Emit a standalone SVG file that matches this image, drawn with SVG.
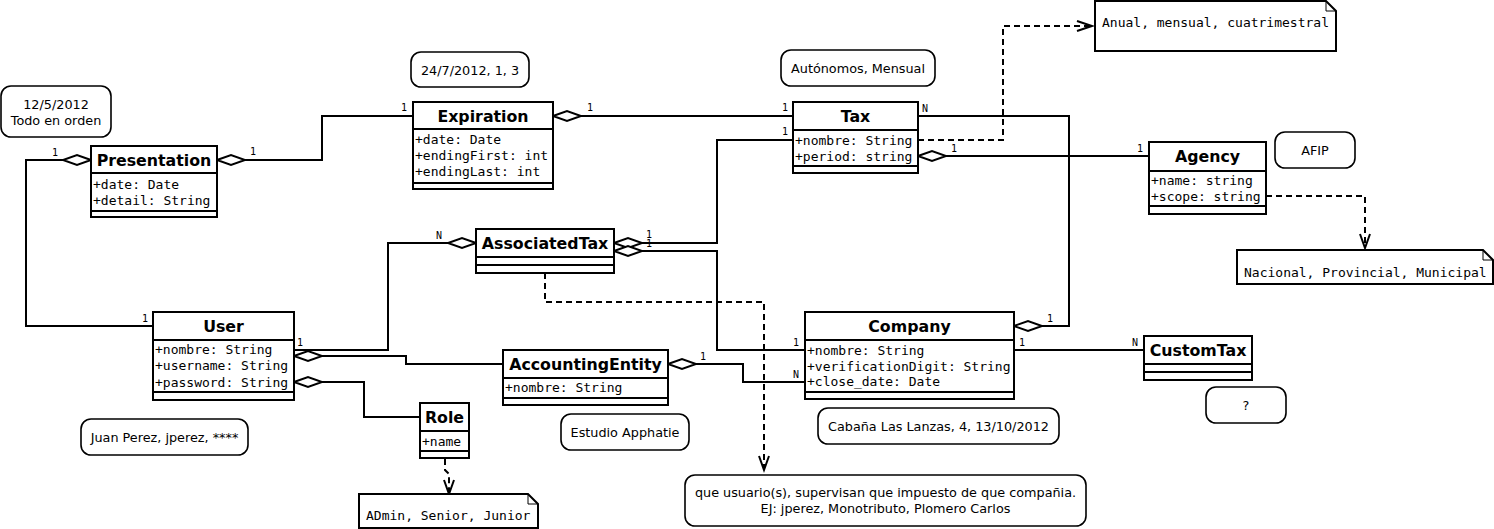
<svg xmlns="http://www.w3.org/2000/svg" width="1494" height="529" viewBox="0 0 1494 529">
<style>
.box{fill:#fff;stroke:#000;stroke-width:2}
.ln{fill:none;stroke:#000;stroke-width:2}
.dash{stroke-dasharray:6 4}
.dia{fill:#fff;stroke:#000;stroke-width:2}
.hd{font-family:"DejaVu Sans",sans-serif;font-weight:bold;font-size:15.8px;text-anchor:middle}
.at{font-family:"DejaVu Sans Mono",monospace;font-size:13px}
.card{font-family:"DejaVu Sans Mono",monospace;font-size:10px}
.nt{font-family:"DejaVu Sans",sans-serif;font-size:12.8px;text-anchor:middle}
.rn{fill:#fff;stroke:#000;stroke-width:1.6}
</style>
<g id="connectors">
  <!-- User - Presentation -->
  <path class="ln" d="M153,326 H26 V160 H63"/>
  <polygon class="dia" points="91,160 77,155 63,160 77,165"/>
  <text class="card" x="52" y="156">1</text>
  <text class="card" x="142" y="322">1</text>
  <!-- Presentation - Expiration -->
  <path class="ln" d="M245,160 H322 V116 H413"/>
  <polygon class="dia" points="217,160 231,155 245,160 231,165"/>
  <text class="card" x="250" y="155">1</text>
  <text class="card" x="401" y="111">1</text>
  <!-- Expiration - Tax -->
  <path class="ln" d="M581,116 H793"/>
  <polygon class="dia" points="553,116 567,111 581,116 567,121"/>
  <text class="card" x="587" y="111">1</text>
  <text class="card" x="782" y="111">1</text>
  <!-- Tax - AssociatedTax -->
  <path class="ln" d="M793,140 H717 V243 H642"/>
  <polygon class="dia" points="614,243 628,238 642,243 628,248"/>
  <text class="card" x="782" y="135">1</text>
  <text class="card" x="646" y="238">1</text>
  <!-- Company - AssociatedTax -->
  <path class="ln" d="M642,251 H717 V350 H805"/>
  <polygon class="dia" points="614,251 628,246 642,251 628,256"/>
  <text class="card" x="646" y="247">1</text>
  <text class="card" x="793" y="346">1</text>
  <!-- Tax - Company -->
  <path class="ln" d="M918,116 H1069 V326 H1042"/>
  <polygon class="dia" points="1014,326 1028,321 1042,326 1028,331"/>
  <text class="card" x="922" y="112">N</text>
  <text class="card" x="1047" y="322">1</text>
  <!-- Tax - Agency -->
  <path class="ln" d="M946,156 H1149"/>
  <polygon class="dia" points="918,156 932,151 946,156 932,161"/>
  <text class="card" x="951" y="152">1</text>
  <text class="card" x="1137" y="152">1</text>
  <!-- Tax -> Anual note -->
  <path class="ln dash" d="M918,140 H1003 V26 H1092"/>
  <polyline class="ln" points="1077,21 1092,26 1077,31"/>
  <!-- Agency -> Nacional note -->
  <path class="ln dash" d="M1266,196 H1365 V248"/>
  <polyline class="ln" points="1360,234 1365,248 1370,234"/>
  <!-- User - AssociatedTax -->
  <path class="ln" d="M294,350 H388 V243 H448"/>
  <polygon class="dia" points="476,243 462,238 448,243 462,248"/>
  <text class="card" x="297" y="346">1</text>
  <text class="card" x="436" y="239">N</text>
  <!-- User - AccountingEntity -->
  <path class="ln" d="M322,356 H406 V364 H503"/>
  <polygon class="dia" points="294,356 308,351 322,356 308,361"/>
  <!-- User - Role -->
  <path class="ln" d="M322,382 H364 V417 H420"/>
  <polygon class="dia" points="294,382 308,377 322,382 308,387"/>
  <!-- AccountingEntity - Company -->
  <path class="ln" d="M696,364 H743 V382 H805"/>
  <polygon class="dia" points="668,364 682,359 696,364 682,369"/>
  <text class="card" x="700" y="360">1</text>
  <text class="card" x="793" y="378">N</text>
  <!-- Company - CustomTax -->
  <path class="ln" d="M1014,350 H1144"/>
  <text class="card" x="1019" y="346">1</text>
  <text class="card" x="1132" y="346">N</text>
  <!-- AssociatedTax -> que usuario note -->
  <path class="ln dash" d="M545,273 V302 H764 V470"/>
  <polyline class="ln" points="759,456 764,470 769,456"/>
  <!-- Role -> ADmin note -->
  <path class="ln dash" d="M445,459 V470 L449,474 V494"/>
  <polyline class="ln" points="444,480 449,494 454,480"/>
</g>
<g id="Presentation">
  <rect class="box" x="91" y="146" width="126" height="71"/>
  <path class="ln" d="M91,173 H217 M91,211 H217"/>
  <text class="hd" x="154" y="165.5">Presentation</text>
  <text class="at" x="93" y="189">+date: Date</text>
  <text class="at" x="93" y="205">+detail: String</text>
</g>
<g id="Expiration">
  <rect class="box" x="413" y="102" width="140" height="87"/>
  <path class="ln" d="M413,129 H553 M413,183 H553"/>
  <text class="hd" x="483" y="121.5">Expiration</text>
  <text class="at" x="415" y="143.5">+date: Date</text>
  <text class="at" x="415" y="159.5">+endingFirst: int</text>
  <text class="at" x="415" y="175.5">+endingLast: int</text>
</g>
<g id="Tax">
  <rect class="box" x="793" y="102" width="125" height="71"/>
  <path class="ln" d="M793,130 H918 M793,166 H918"/>
  <text class="hd" x="855.5" y="121.5">Tax</text>
  <text class="at" x="795" y="144.5">+nombre: String</text>
  <text class="at" x="795" y="160.5">+period: string</text>
</g>
<g id="Agency">
  <rect class="box" x="1149" y="142" width="117" height="72"/>
  <path class="ln" d="M1149,171 H1266 M1149,206 H1266"/>
  <text class="hd" x="1207.5" y="161.5">Agency</text>
  <text class="at" x="1151" y="184.5">+name: string</text>
  <text class="at" x="1151" y="200.5">+scope: string</text>
</g>
<g id="AssociatedTax">
  <rect class="box" x="476" y="229" width="138" height="44"/>
  <path class="ln" d="M476,257 H614 M476,265 H614"/>
  <text class="hd" x="545" y="248.5">AssociatedTax</text>
</g>
<g id="User">
  <rect class="box" x="153" y="312" width="141" height="88"/>
  <path class="ln" d="M153,340 H294 M153,392 H294"/>
  <text class="hd" x="223.5" y="331.5">User</text>
  <text class="at" x="155" y="353.5">+nombre: String</text>
  <text class="at" x="155" y="370">+username: String</text>
  <text class="at" x="155" y="386.5">+password: String</text>
</g>
<g id="AccountingEntity">
  <rect class="box" x="503" y="350" width="165" height="55"/>
  <path class="ln" d="M503,378 H668 M503,398 H668"/>
  <text class="hd" x="585.5" y="369.5">AccountingEntity</text>
  <text class="at" x="505" y="391.5">+nombre: String</text>
</g>
<g id="Company">
  <rect class="box" x="805" y="312" width="209" height="87"/>
  <path class="ln" d="M805,340 H1014 M805,392 H1014"/>
  <text class="hd" x="909.5" y="331.5">Company</text>
  <text class="at" x="807" y="354.5">+nombre: String</text>
  <text class="at" x="807" y="370.5">+verificationDigit: String</text>
  <text class="at" x="807" y="385.5">+close_date: Date</text>
</g>
<g id="CustomTax">
  <rect class="box" x="1144" y="336" width="108" height="44"/>
  <path class="ln" d="M1144,364 H1252 M1144,372 H1252"/>
  <text class="hd" x="1198" y="355.5">CustomTax</text>
</g>
<g id="Role">
  <rect class="box" x="420" y="403" width="49" height="55"/>
  <path class="ln" d="M420,431 H469 M420,451 H469"/>
  <text class="hd" x="444.5" y="422.5">Role</text>
  <text class="at" x="422" y="445.5">+name</text>
</g>
<g id="note-presentation">
  <rect class="rn" x="1" y="86" width="110" height="51" rx="10"/>
  <text class="nt" x="56" y="108.5">12/5/2012</text>
  <text class="nt" x="56" y="124.5">Todo en orden</text>
</g>
<g id="note-expiration">
  <rect class="rn" x="411" y="52" width="118" height="35" rx="10"/>
  <text class="nt" x="470" y="74.5">24/7/2012, 1, 3</text>
</g>
<g id="note-tax">
  <rect class="rn" x="781" y="50" width="154" height="36" rx="10"/>
  <text class="nt" x="858" y="72.5">Autónomos, Mensual</text>
</g>
<g id="note-agency">
  <rect class="rn" x="1275" y="132" width="80" height="36" rx="10"/>
  <text class="nt" x="1315" y="154.5">AFIP</text>
</g>
<g id="note-customtax">
  <rect class="rn" x="1206" y="387" width="80" height="36" rx="10"/>
  <text class="nt" x="1246" y="409.5">?</text>
</g>
<g id="note-company">
  <rect class="rn" x="818" y="408" width="241" height="36" rx="10"/>
  <text class="nt" x="938.5" y="430.5">Cabaña Las Lanzas, 4, 13/10/2012</text>
</g>
<g id="note-user">
  <rect class="rn" x="81" y="419" width="167" height="36" rx="10"/>
  <text class="nt" x="164.5" y="441.5">Juan Perez, jperez, ****</text>
</g>
<g id="note-accounting">
  <rect class="rn" x="561" y="414" width="128" height="36" rx="10"/>
  <text class="nt" x="625" y="436.5">Estudio Apphatie</text>
</g>
<g id="note-associated">
  <rect class="rn" x="685" y="475" width="401" height="51" rx="10"/>
  <text class="nt" x="885.5" y="496.5">que usuario(s), supervisan que impuesto de que compañia.</text>
  <text class="nt" x="885.5" y="512.5">EJ: jperez, Monotributo, Plomero Carlos</text>
</g>
<g id="note-anual">
  <path class="box" d="M1095,1 H1326 L1336,11 V51 H1095 Z"/>
  <path class="ln" style="stroke-width:1" d="M1326,1 V11 H1336"/>
  <text class="at" x="1102" y="26.5">Anual, mensual, cuatrimestral</text>
</g>
<g id="note-nacional">
  <path class="box" d="M1237,250 H1483 L1493,260 V284 H1237 Z"/>
  <path class="ln" style="stroke-width:1" d="M1483,250 V260 H1493"/>
  <text class="at" x="1244" y="276.5">Nacional, Provincial, Municipal</text>
</g>
<g id="note-role">
  <path class="box" d="M359,494 H528 L538,504 V528 H359 Z"/>
  <path class="ln" style="stroke-width:1" d="M528,494 V504 H538"/>
  <text class="at" x="366" y="519.5">ADmin, Senior, Junior</text>
</g>
</svg>
